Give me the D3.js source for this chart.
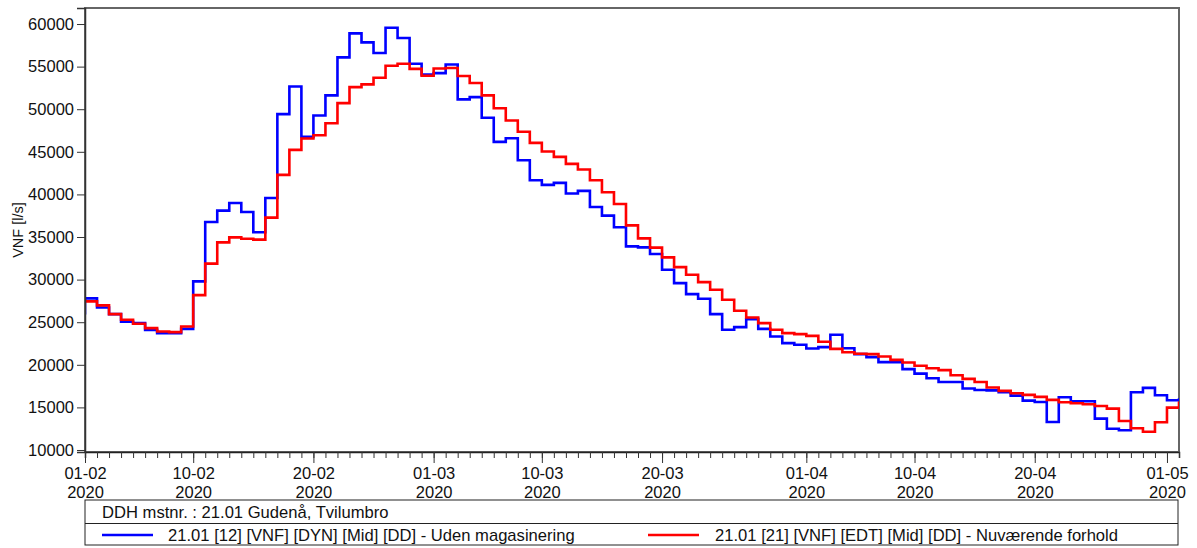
<!DOCTYPE html>
<html>
<head>
<meta charset="utf-8">
<script src="https://cdn.jsdelivr.net/npm/d3@7"></script>
<style>
  html, body { margin: 0; padding: 0; background: #fff; }
  svg { display: block; font-family: "Liberation Sans", Arial, sans-serif; }
</style>
</head>
<body>
<svg id="chart" width="1197" height="548"></svg>
<script>
// ---------------- DATA ----------------
// Daily values starting 2020-01-31 (first value is only visible as the edge step)
const startDate = "2020-01-31";
const blueValues = [
  26070, 27800, 26730, 25950, 25050, 24890, 24100, 23720, 23720, 24220,
  29790, 36770, 38100, 39000, 37940, 35550, 39580, 49420, 52670, 46750,
  49260, 51620, 56080, 58900, 57850, 56590, 59560, 58360, 55330, 54080,
  54240, 55250, 51150, 51420, 48990, 46170, 46600, 44010, 41660, 41120,
  41350, 40100, 40410, 38530, 37510, 36150, 33900, 33780, 33000, 31160,
  29590, 28300, 27750, 25950, 24110, 24420, 25360, 24220, 23320, 22540,
  22360, 21910, 22070, 23520, 21950, 21250, 20900, 20310, 20310, 19490,
  18970, 18430, 17990, 17990, 17210, 17050, 17000, 16780, 16380, 15800,
  15640, 13290, 16190, 15720, 15720, 13680, 12500, 12310, 16780, 17290,
  16430, 15840, 16080
];
const redValues = [
  27500, 27450, 26980, 25950, 25280, 24810, 24300, 23910, 23830, 24500,
  28180, 31870, 34370, 34960, 34800, 34690, 37270, 42290, 45230, 46560,
  46950, 48360, 50710, 52590, 52910, 53690, 55100, 55330, 54740, 53930,
  54780, 54830, 53890, 53070, 51620, 50120, 48680, 47350, 46050, 45030,
  44410, 43580, 42920, 41660, 40250, 38880, 36370, 34840, 33750, 32610,
  31470, 30570, 29710, 28810, 27630, 26340, 25560, 24890, 24110, 23720,
  23600, 23400, 22700, 21870, 21480, 21290, 21250, 20970, 20580, 20270,
  19880, 19600, 19370, 18780, 18350, 17990, 17330, 16940, 16660, 16470,
  16230, 15880, 15610, 15490, 15370, 15170, 14860, 13410, 12550, 12150,
  13250, 14970, 15700
];
const yTicks = [10000, 15000, 20000, 25000, 30000, 35000, 40000, 45000, 50000, 55000, 60000];
const xDomain = ["2020-02-01", "2020-05-02"];
const yDomain = [9765, 61880];
const yLabel = "VNF [l/s]";
const stationText = "DDH mstnr. : 21.01 Gudenå, Tvilumbro";
const seriesNames = [
  "21.01 [12] [VNF] [DYN] [Mid] [DD] - Uden magasinering",
  "21.01 [21] [VNF] [EDT] [Mid] [DD] - Nuværende forhold"
];
const seriesColors = ["#0000ff", "#ff0000"];

// ---------------- CHART ----------------
const svg = d3.select("#chart");
const L = 85, T = 8, R = 1179, B = 452;
const FS = 16.5;
const LFS = 16.6;

const x = d3.scaleUtc()
  .domain(xDomain.map(d => new Date(d + "T00:00:00Z")))
  .range([L, R]);
const y = d3.scaleLinear().domain(yDomain).range([B, T]);

const start = new Date(startDate + "T00:00:00Z");
const mk = vals => vals.map((v, i) => ({ d: d3.utcDay.offset(start, i), v }));
const series = [mk(blueValues), mk(redValues)];

svg.append("defs").append("clipPath").attr("id", "clip")
  .append("rect").attr("x", L).attr("y", T).attr("width", R - L).attr("height", B - T);

// frame
svg.append("rect").attr("x", L).attr("y", T).attr("width", R - L).attr("height", B - T)
  .attr("fill", "none").attr("stroke", "#666").attr("stroke-width", 2);

// lines
const line = d3.line().curve(d3.curveStepAfter).x(d => x(d.d)).y(d => y(d.v));
const g = svg.append("g").attr("clip-path", "url(#clip)");
series.forEach((s, i) => {
  g.append("path").datum(s).attr("d", line)
    .attr("fill", "none").attr("stroke", seriesColors[i]).attr("stroke-width", 2.6)
    .attr("stroke-linejoin", "miter");
});

// y axis
const yAxis = d3.axisLeft(y).tickValues(yTicks).tickSize(8).tickPadding(3).tickFormat(d3.format("d"));
const ya = svg.append("g").attr("transform", `translate(${L},0)`).call(yAxis);
ya.select(".domain").attr("stroke", "#333").attr("stroke-width", 1.5);
ya.selectAll(".tick line").attr("stroke", "#333");
ya.selectAll("text").attr("font-size", FS).attr("fill", "#111").attr("font-family", "Liberation Sans, Arial, sans-serif");

// x axis minor ticks (daily)
const days = d3.utcDay.range(x.domain()[0], d3.utcDay.offset(x.domain()[1], 1));
const major = days.filter(d => [1, 10, 20].includes(d.getUTCDate()));
const xMinor = d3.axisBottom(x).tickValues(days).tickSize(6).tickFormat("");
const xm = svg.append("g").attr("transform", `translate(0,${B})`).call(xMinor);
xm.select(".domain").attr("stroke", "#222").attr("stroke-width", 1.5);
xm.selectAll(".tick line").attr("stroke", "#333");

const xMajor = d3.axisBottom(x).tickValues(major).tickSize(11).tickFormat("");
const xM = svg.append("g").attr("transform", `translate(0,${B})`).call(xMajor);
xM.select(".domain").remove();
xM.selectAll(".tick line").attr("stroke", "#333");
const fmt = d3.utcFormat("%d-%m");
xM.selectAll(".tick").each(function(d) {
  const t = d3.select(this);
  t.append("text").attr("y", 27).attr("text-anchor", "middle").attr("font-size", FS)
    .attr("fill", "#111").text(fmt(d));
  t.append("text").attr("y", 46).attr("text-anchor", "middle").attr("font-size", FS)
    .attr("fill", "#111").text(d3.utcFormat("%Y")(d));
});

// y label
svg.append("text").attr("transform", `translate(23,${(T + B) / 2}) rotate(-90)`)
  .attr("text-anchor", "middle").attr("font-size", 14.5).attr("fill", "#111").text(yLabel);

// legend box
const lb = svg.append("g");
lb.append("rect").attr("x", L).attr("y", 500).attr("width", 1093).attr("height", 45)
  .attr("fill", "none").attr("stroke", "#222").attr("stroke-width", 1);
lb.append("line").attr("x1", L).attr("x2", L + 1093).attr("y1", 523.5).attr("y2", 523.5)
  .attr("stroke", "#222").attr("stroke-width", 1);
lb.append("text").attr("x", 102).attr("y", 517.5).attr("font-size", LFS).attr("fill", "#111").text(stationText);
const legX = [[102, 153, 168], [648, 699, 715]];
seriesNames.forEach((n, i) => {
  lb.append("line").attr("x1", legX[i][0]).attr("x2", legX[i][1]).attr("y1", 535).attr("y2", 535)
    .attr("stroke", seriesColors[i]).attr("stroke-width", 2.6);
  lb.append("text").attr("x", legX[i][2]).attr("y", 540.5).attr("font-size", LFS).attr("fill", "#111").text(n);
});
</script>
</body>
</html>
